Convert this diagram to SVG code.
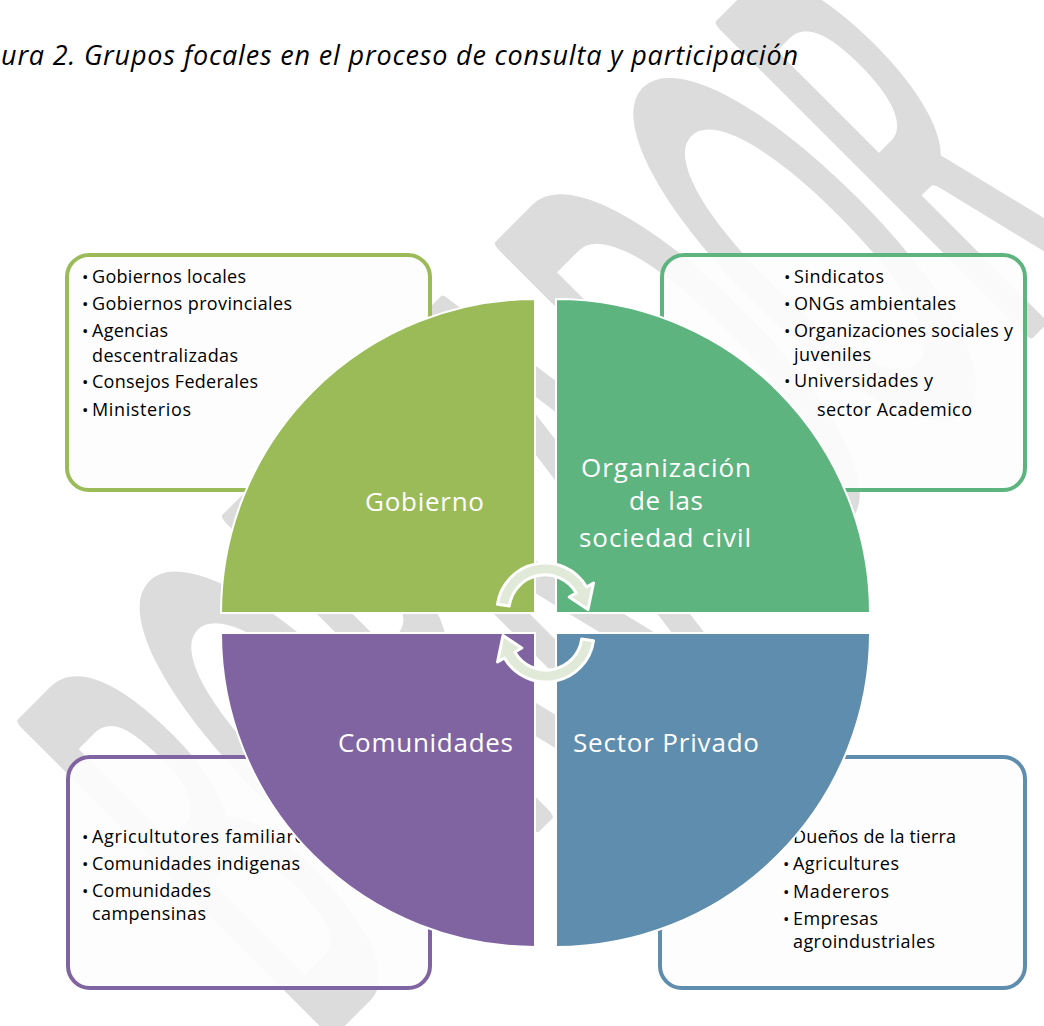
<svg xmlns="http://www.w3.org/2000/svg" width="1044" height="1026" viewBox="0 0 1044 1026">
  <style>
    .wm { font-family: Lato, "Open Sans", "Liberation Sans", sans-serif; font-weight: 400; font-size: 200px; fill: #dcdcdc; stroke: #dcdcdc; stroke-width: 6; stroke-linejoin: round; }
    .title { font-family: "Open Sans", "Liberation Sans", sans-serif; font-style: italic; font-size: 27px; fill: #000; }
    .box { fill: #fdfdfd; fill-opacity: 0.9; stroke-width: 4; }
    .b, .t { font-family: "Open Sans", "Liberation Sans", sans-serif; font-size: 18px; fill: #000; }
    .b { font-size: 17px; }
    .quad { stroke: #fff; stroke-width: 2; }
    .label { font-family: "Open Sans", "Liberation Sans", sans-serif; font-size: 26px; fill: #fff; }
    .cyc { fill: #e1ead8; stroke: #fff; stroke-width: 3; stroke-linejoin: round; }
  </style>

  <rect width="1044" height="1026" fill="#fff"/>

  <!-- background watermark -->
  <text class="wm" transform="translate(315,1043) rotate(-45) scale(1,3)" x="0" y="0">BORRADOR</text>

  <!-- caption -->
  <text class="title" x="1" y="65" textLength="797">ura 2. Grupos focales en el proceso de consulta y participación</text>

  <!-- detail boxes -->
  <g id="box-gobierno">
    <rect class="box" x="67" y="255" width="363" height="235" rx="22" stroke="#9bbb59"/>
    <text class="b" x="82" y="283">•</text><text class="t" x="92" y="283" textLength="154">Gobiernos locales</text>
    <text class="b" x="82" y="310">•</text><text class="t" x="92" y="310" textLength="200">Gobiernos provinciales</text>
    <text class="b" x="82" y="337">•</text><text class="t" x="92" y="337" textLength="76">Agencias</text>
    <text class="t" x="92" y="362" textLength="146">descentralizadas</text>
    <text class="b" x="82" y="388">•</text><text class="t" x="92" y="388" textLength="166">Consejos Federales</text>
    <text class="b" x="82" y="416">•</text><text class="t" x="92" y="416" textLength="99">Ministerios</text>
  </g>

  <g id="box-sociedad-civil">
    <rect class="box" x="662" y="255" width="363" height="235" rx="22" stroke="#5db47f"/>
    <text class="b" x="784" y="283">•</text><text class="t" x="794" y="283" textLength="90">Sindicatos</text>
    <text class="b" x="784" y="310">•</text><text class="t" x="794" y="310" textLength="162">ONGs ambientales</text>
    <text class="b" x="784" y="337">•</text><text class="t" x="794" y="337" textLength="219">Organizaciones sociales y</text>
    <text class="t" x="794" y="361" textLength="77">juveniles</text>
    <text class="b" x="784" y="387">•</text><text class="t" x="794" y="387" textLength="139">Universidades y</text>
    <text class="t" x="817" y="416" textLength="155">sector Academico</text>
  </g>

  <g id="box-comunidades">
    <rect class="box" x="68" y="757" width="362" height="231" rx="22" stroke="#8064a2"/>
    <text class="b" x="82" y="843">•</text><text class="t" x="92" y="843" textLength="222">Agricultutores familiares</text>
    <text class="b" x="82" y="870">•</text><text class="t" x="92" y="870" textLength="208">Comunidades indigenas</text>
    <text class="b" x="82" y="897">•</text><text class="t" x="92" y="897" textLength="119">Comunidades</text>
    <text class="t" x="92" y="920" textLength="114">campensinas</text>
  </g>

  <g id="box-sector-privado">
    <rect class="box" x="660" y="757" width="365" height="231" rx="22" stroke="#5f8dae"/>
    <text class="b" x="783" y="843">•</text><text class="t" x="793" y="843" textLength="163">Dueños de la tierra</text>
    <text class="b" x="783" y="870">•</text><text class="t" x="793" y="870" textLength="106">Agricultures</text>
    <text class="b" x="783" y="898">•</text><text class="t" x="793" y="898" textLength="96">Madereros</text>
    <text class="b" x="783" y="925">•</text><text class="t" x="793" y="925" textLength="85">Empresas</text>
    <text class="t" x="793" y="948" textLength="142">agroindustriales</text>
  </g>

  <!-- four quarter discs -->
  <g id="q-gobierno">
    <path class="quad" fill="#9bbb59" d="M535,613 L221,613 A314,314 0 0 1 535,299 Z"/>
    <text class="label" x="365" y="511" textLength="119">Gobierno</text>
  </g>
  <g id="q-sociedad-civil">
    <path class="quad" fill="#5db47f" d="M556,613 L556,299 A314,314 0 0 1 870,613 Z"/>
    <text class="label" x="581" y="477" textLength="170">Organización</text>
    <text class="label" x="629" y="510" textLength="74">de las</text>
    <text class="label" x="579" y="547" textLength="172">sociedad civil</text>
  </g>
  <g id="q-comunidades">
    <path class="quad" fill="#8064a2" d="M535,633 L535,947 A314,314 0 0 1 221,633 Z"/>
    <text class="label" x="338" y="752" textLength="175">Comunidades</text>
  </g>
  <g id="q-sector-privado">
    <path class="quad" fill="#5f8dae" d="M556,633 L870,633 A314,314 0 0 1 556,947 Z"/>
    <text class="label" x="573" y="752" textLength="186">Sector Privado</text>
  </g>

  <!-- cycle arrows in the centre -->
  <g id="connectors">
    <path class="cyc" d="M497.5,604.3 A48,48 0 0 1 586.6,587 L593.5,583 L588,609.5 L569.2,597 L576.2,593 A36,36 0 0 0 509.3,606 Z"/>
    <path class="cyc" d="M593.5,640.7 A48,48 0 0 1 504.4,658 L497.5,662 L503,635.5 L521.8,648 L514.8,652 A36,36 0 0 0 581.7,639 Z"/>
  </g>
</svg>
